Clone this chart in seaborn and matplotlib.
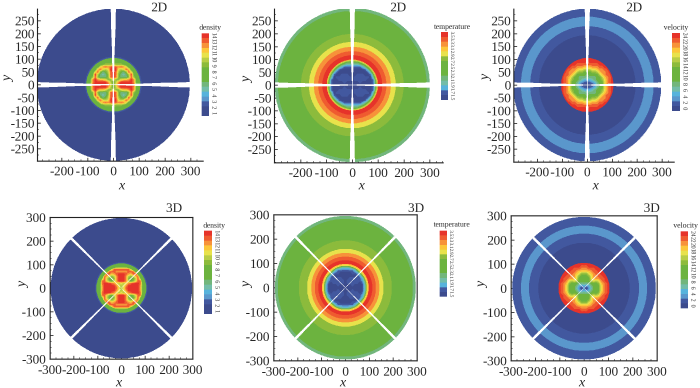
import io
import numpy as np
import matplotlib
matplotlib.use("Agg")
import matplotlib.pyplot as plt
from matplotlib.colors import ListedColormap
from matplotlib.ticker import FixedLocator
import seaborn as sns

# --- Contour levels, shared by all six panels (navy up to red) ---
LEVEL_COLORS = ["#3c4b8d", "#42599f", "#5a97cc", "#57b3dc", "#73bdaa", "#72b67c", "#6cb33f",
                "#8cbb3c", "#b8cd46", "#e9e34b", "#fcc63a", "#f7923a", "#ef5b30", "#e6332a"]

# --- Radial bands outside the core: outer radius and level of each band ---
DENSITY_RADII = [105, 110, 297]
DENSITY_LEVELS = [6, 1, 0]
TEMP_2D_RADII = [93, 97, 99, 116, 132, 149, 168, 199, 288, 300]
TEMP_2D_LEVELS = [6, 8, 10, 13, 12, 11, 9, 7, 6, 5]
TEMP_3D_RADII = [92, 98, 113, 128, 143, 160, 195, 283, 295]
TEMP_3D_LEVELS = [9, 10, 13, 12, 11, 9, 7, 6, 5]
VEL_2D_RADII = [105, 194, 229, 266, 297]
VEL_2D_LEVELS = [13, 0, 1, 2, 1]
VEL_3D_RADII = [105, 188, 226, 259, 295]
VEL_3D_LEVELS = [13, 0, 1, 2, 1]

# --- Core levels in the first quadrant, rows are y = 0, 10, ... and columns x = 0, 10, ... ---
DENSITY_2D_CORE = [[6, 9, 12, 13, 13, 13, 13, 13, 12, 6],
                   [6, 8, 11, 13, 13, 13, 13, 13, 11, 6],
                   [9, 7, 7, 9, 10, 10, 11, 13, 11, 6],
                   [13, 12, 7, 5, 5, 5, 7, 12, 7, 6],
                   [13, 12, 7, 5, 4, 5, 8, 13, 6, 6],
                   [13, 12, 8, 6, 5, 7, 12, 9, 6, 6],
                   [13, 13, 9, 8, 9, 12, 10, 6, 6, 6],
                   [13, 12, 11, 12, 11, 9, 6, 6, 6, 6],
                   [8, 7, 7, 7, 6, 6, 6, 6, 6, 6],
                   [6, 6, 6, 6, 6, 6, 6, 6, 6, 6]]
DENSITY_3D_CORE = [[8, 9, 12, 13, 13, 13, 13, 13, 11, 6],
                   [8, 9, 11, 13, 13, 13, 13, 13, 11, 6],
                   [9, 8, 9, 11, 12, 13, 13, 13, 12, 6],
                   [13, 13, 11, 8, 6, 7, 9, 12, 12, 6],
                   [13, 13, 11, 7, 6, 6, 8, 12, 8, 6],
                   [13, 13, 11, 8, 7, 8, 10, 12, 6, 6],
                   [13, 13, 12, 11, 10, 12, 13, 8, 6, 6],
                   [11, 11, 11, 12, 12, 12, 8, 6, 6, 6],
                   [12, 12, 12, 12, 9, 6, 6, 6, 6, 6],
                   [6, 6, 6, 6, 6, 6, 6, 6, 6, 6]]
TEMP_2D_CORE = [[0, 0, 0, 0, 0, 0, 0, 0, 1, 5],
                [0, 0, 0, 1, 0, 0, 0, 0, 1, 6],
                [0, 1, 1, 1, 1, 1, 0, 0, 1, 6],
                [0, 1, 1, 1, 1, 1, 1, 0, 4, 7],
                [0, 0, 1, 1, 1, 0, 0, 1, 5, 9],
                [0, 0, 0, 0, 0, 0, 1, 4, 8, 10],
                [0, 0, 0, 0, 0, 1, 4, 7, 9, 13],
                [1, 1, 1, 1, 3, 5, 7, 9, 13, 13],
                [4, 4, 4, 5, 6, 7, 9, 13, 13, 13],
                [6, 6, 6, 7, 8, 9, 13, 13, 13, 13]]
TEMP_3D_CORE = [[0, 0, 0, 0, 0, 0, 0, 0, 3, 7],
                [0, 0, 0, 1, 0, 0, 0, 0, 3, 7],
                [0, 1, 1, 1, 1, 1, 0, 1, 4, 7],
                [0, 1, 1, 1, 1, 1, 1, 2, 5, 8],
                [0, 0, 1, 1, 1, 1, 1, 3, 6, 8],
                [0, 0, 0, 0, 0, 1, 2, 6, 9, 10],
                [0, 0, 0, 1, 1, 2, 6, 9, 10, 13],
                [1, 1, 1, 1, 3, 6, 9, 10, 13, 13],
                [3, 3, 4, 5, 6, 8, 10, 13, 13, 13],
                [7, 7, 7, 8, 9, 10, 13, 13, 13, 13]]
VEL_2D_CORE = [[0, 0, 0, 2, 4, 6, 6, 9, 11, 12, 13],
               [1, 1, 2, 3, 5, 6, 6, 9, 11, 12, 13],
               [3, 3, 4, 5, 6, 6, 7, 9, 11, 12, 13],
               [4, 5, 5, 5, 6, 6, 8, 10, 11, 12, 13],
               [5, 6, 6, 6, 6, 8, 10, 11, 12, 12, 13],
               [6, 6, 7, 7, 8, 10, 11, 11, 12, 13, 13],
               [8, 8, 9, 9, 10, 11, 11, 12, 12, 13, 13],
               [10, 10, 11, 11, 11, 12, 12, 13, 13, 13, 13],
               [12, 12, 12, 12, 12, 13, 13, 13, 13, 13, 13],
               [12, 13, 13, 13, 13, 13, 13, 13, 13, 13, 13],
               [13, 13, 13, 13, 13, 13, 13, 13, 13, 13, 13]]
VEL_3D_CORE = [[2, 0, 2, 4, 6, 6, 6, 9, 11, 12, 13],
               [3, 2, 3, 5, 6, 6, 6, 9, 11, 12, 13],
               [5, 5, 5, 6, 6, 6, 7, 10, 11, 12, 13],
               [6, 6, 6, 8, 9, 8, 9, 11, 12, 13, 13],
               [6, 6, 6, 9, 10, 11, 11, 12, 12, 13, 13],
               [6, 6, 7, 9, 11, 11, 12, 12, 13, 13, 13],
               [7, 7, 9, 10, 11, 12, 12, 13, 13, 13, 13],
               [10, 10, 10, 11, 12, 12, 13, 13, 13, 13, 13],
               [11, 11, 12, 12, 12, 13, 13, 13, 13, 13, 13],
               [12, 12, 13, 13, 13, 13, 13, 13, 13, 13, 13],
               [13, 13, 13, 13, 13, 13, 13, 13, 13, 13, 13]]

# --- Legend bars, listed from bottom to top ---
DENSITY_BAR = [0, 0, 1, 2, 3, 4, 5, 6, 6, 6, 7, 8, 9, 10, 11, 12, 13]
TEMP_BAR = [0, 1, 3, 4, 5, 6, 6, 6, 7, 9, 10, 11, 12, 13]
VEL_BAR = [0, 1, 2, 3, 4, 5, 6, 6, 6, 7, 8, 9, 10, 11, 12, 13]
DENSITY_TICKS = ["1", "2", "3", "4", "5", "6", "7", "8", "9", "10", "11", "12", "13", "14"]
TEMP_TICKS = ["1.5", "1.7", "1.9", "2.1", "2.3", "2.5", "2.7", "2.9", "3.1", "3.3", "3.5"]
VEL_TICKS = ["0", "2", "4", "6", "8", "10", "12", "14", "16", "18", "20", "22", "24"]

# --- Axis ticks ---
TICKS_2D_X = [-200, -100, 0, 100, 200, 300]
TICKS_2D_Y = [-250, -200, -150, -100, -50, 0, 50, 100, 150, 200, 250]
TICKS_3D = [-300, -200, -100, 0, 100, 200, 300]

FIG_W, FIG_H = 700, 388
SUPERSAMPLE = 3
GRID_STEP = 1.0
GRID = np.arange(-360, 360 + GRID_STEP, GRID_STEP)
CORE_STEP = 10


def to_index(v):
    """Data value to heatmap cell coordinate."""
    return (np.asarray(v, dtype=float) - GRID[0]) / GRID_STEP + 0.5


def core_levels(table, ax_, ay_):
    """Read the quadrant table at |x|, |y|, blending between neighbouring entries."""
    t = np.asarray(table, dtype=float)
    n = t.shape[0] - 1
    fx = np.clip(ax_ / CORE_STEP, 0, n - 1e-6)
    fy = np.clip(ay_ / CORE_STEP, 0, n - 1e-6)
    i, j = fy.astype(int), fx.astype(int)
    dx, dy = fx - j, fy - i
    return ((1 - dy) * (1 - dx) * t[i, j] + (1 - dy) * dx * t[i, j + 1]
            + dy * (1 - dx) * t[i + 1, j] + dy * dx * t[i + 1, j + 1])


def build_field(core, radii, levels, is_3d):
    """Level index on the grid and the mask for the gaps and the outside of the disc."""
    x, y = np.meshgrid(GRID, GRID)
    r = np.hypot(x, y)
    band = np.searchsorted(radii, r)
    field = np.array(levels + [0], dtype=float)[band]
    core_radius = (len(core) - 1) * CORE_STEP
    inside = r < core_radius
    field[inside] = np.rint(core_levels(core, np.abs(x), np.abs(y)))[inside]
    if is_3d:
        gap = np.minimum(np.abs(x - y), np.abs(x + y)) / np.sqrt(2) < 0.6 + 0.017 * r
    else:
        gap = np.minimum(np.abs(x), np.abs(y)) < 1.5 + 0.03 * r
    return field, gap | (r >= radii[-1])


def make_axes(fig, left, right, top, bottom):
    """Axes from a box given in image pixels."""
    return fig.add_axes([left / FIG_W, 1 - bottom / FIG_H, (right - left) / FIG_W, (bottom - top) / FIG_H])


def draw_panel(fig, box, xlim, ylim, core, radii, levels, is_3d, cmap):
    ax = make_axes(fig, *box)
    field, mask = build_field(core, radii, levels, is_3d)
    sns.heatmap(field, mask=mask, cmap=cmap, vmin=-0.5, vmax=len(LEVEL_COLORS) - 0.5, cbar=False,
                square=False, xticklabels=False, yticklabels=False, ax=ax)
    ax.set_xlim(to_index(xlim[0]), to_index(xlim[1]))
    ax.set_ylim(to_index(ylim[0]), to_index(ylim[1]))
    xticks = TICKS_3D if is_3d else TICKS_2D_X
    yticks = TICKS_3D if is_3d else TICKS_2D_Y
    ax.set_xticks(to_index(xticks))
    ax.set_xticklabels([str(v) for v in xticks], rotation=0, fontsize=9.5)
    ax.set_yticks(to_index(yticks))
    ax.set_yticklabels([str(v) for v in yticks], rotation=0, fontsize=9.5)
    minor = np.arange(-350, 351, 25)
    ax.xaxis.set_minor_locator(FixedLocator(to_index(minor[(minor >= xlim[0]) & (minor <= xlim[1])])))
    ax.yaxis.set_minor_locator(FixedLocator(to_index(minor[(minor >= ylim[0]) & (minor <= ylim[1])])))
    ax.tick_params(which="major", direction="in", length=2.5, width=0.6, bottom=True, left=True)
    ax.tick_params(which="minor", direction="in", length=1.2, width=0.4, bottom=True, left=True)
    ax.tick_params(axis="x", which="major", pad=4 if is_3d else 3.5)
    ax.tick_params(axis="y", which="major", pad=3 if is_3d else 2)
    for name, spine in ax.spines.items():
        spine.set_visible(is_3d or name in ("left", "bottom"))
        spine.set_linewidth(0.8)
        spine.set_color("#222222")
    ax.set_xlabel("")
    ax.set_ylabel("")
    return ax


def draw_legend(fig, box, bar, ticks, name, name_xy, cmap, tick_size=4.3):
    ax = make_axes(fig, *box)
    cells = np.array(bar, dtype=float)[::-1].reshape(-1, 1)
    sns.heatmap(cells, cmap=cmap, vmin=-0.5, vmax=len(LEVEL_COLORS) - 0.5, cbar=False,
                xticklabels=False, yticklabels=False, ax=ax)
    pos = np.linspace(len(bar) - 0.5, 0.5, len(ticks))
    ax.yaxis.tick_right()
    ax.set_yticks(pos)
    ax.set_yticklabels(ticks, rotation=-90, fontsize=tick_size, va="center")
    ax.tick_params(axis="y", length=0, pad=1)
    ax.set_xlabel("")
    ax.set_ylabel("")
    fig_text(fig, name_xy, name, fontsize=5.5)


def fig_text(fig, xy, s, **kwargs):
    fig.text(xy[0] / FIG_W, 1 - xy[1] / FIG_H, s, ha="center", va="center", **kwargs)


sns.set_theme(style="ticks")
plt.rcParams["font.family"] = ["Liberation Serif", "DejaVu Serif"]

fig = plt.figure(figsize=(FIG_W / 100, FIG_H / 100), dpi=100, facecolor="white")
cmap = ListedColormap(sns.color_palette(LEVEL_COLORS))

# --- 2D row ---
draw_panel(fig, (37.3, 203, 9, 161), (-295, 348), (-298, 296), DENSITY_2D_CORE, DENSITY_RADII, DENSITY_LEVELS, False, cmap)
draw_panel(fig, (274.3, 443, 9, 162.7), (-302, 351), (-302, 296), TEMP_2D_CORE, TEMP_2D_RADII, TEMP_2D_LEVELS, False, cmap)
draw_panel(fig, (513.7, 674, 9, 162), (-295, 348), (-300, 296), VEL_2D_CORE, VEL_2D_RADII, VEL_2D_LEVELS, False, cmap)

# --- 3D row ---
draw_panel(fig, (50, 192.7, 217.3, 359), (-300, 300), (-300, 300), DENSITY_3D_CORE, DENSITY_RADII, DENSITY_LEVELS, True, cmap)
draw_panel(fig, (273.7, 417, 214.7, 360.7), (-300, 300), (-300, 300), TEMP_3D_CORE, TEMP_3D_RADII, TEMP_3D_LEVELS, True, cmap)
draw_panel(fig, (511, 657, 215.7, 360.7), (-300, 300), (-300, 300), VEL_3D_CORE, VEL_3D_RADII, VEL_3D_LEVELS, True, cmap)

# --- Legends ---
draw_legend(fig, (201.7, 209, 33.3, 116), DENSITY_BAR, DENSITY_TICKS, "density", (210, 28), cmap)
draw_legend(fig, (441, 448, 32, 100), TEMP_BAR, TEMP_TICKS, "temperature", (452, 27), cmap, tick_size=3.6)
draw_legend(fig, (672, 680, 33, 111), VEL_BAR, VEL_TICKS, "velocity", (676, 28), cmap)
draw_legend(fig, (204, 212, 230.7, 314), DENSITY_BAR, DENSITY_TICKS, "density", (214, 226), cmap)
draw_legend(fig, (439.7, 447, 230.7, 296.7), TEMP_BAR, TEMP_TICKS, "temperature", (451.7, 224.7), cmap, tick_size=3.6)
draw_legend(fig, (680.7, 688, 231.3, 308.3), VEL_BAR, VEL_TICKS, "velocity", (685.7, 225.7), cmap)

# --- Row tags and axis names ---
for xy, s in [((159, 8), "2D"), ((398, 8), "2D"), ((634, 8), "2D"),
              ((174, 209), "3D"), ((416, 208.7), "3D"), ((651.7, 208.7), "3D")]:
    fig_text(fig, xy, s, fontsize=9.5)
for xy in [(122, 186), (361.7, 186), (595.7, 186), (119, 383), (343, 383), (582, 383)]:
    fig_text(fig, xy, "x", fontsize=10, style="italic")
for xy in [(8, 79), (247, 80), (486, 78), (23, 285), (247, 285), (482, 285)]:
    fig_text(fig, xy, "y", fontsize=10, style="italic", rotation=90)

# the mesh has no antialiasing, so draw large and average down to smooth the contour edges
buf = io.BytesIO()
fig.savefig(buf, dpi=100 * SUPERSAMPLE, format="png")
buf.seek(0)
big = plt.imread(buf)[:, :, :3]
small = big.reshape(FIG_H, SUPERSAMPLE, FIG_W, SUPERSAMPLE, 3).mean(axis=(1, 3))
plt.imsave("out.png", small)
plt.close(fig)
